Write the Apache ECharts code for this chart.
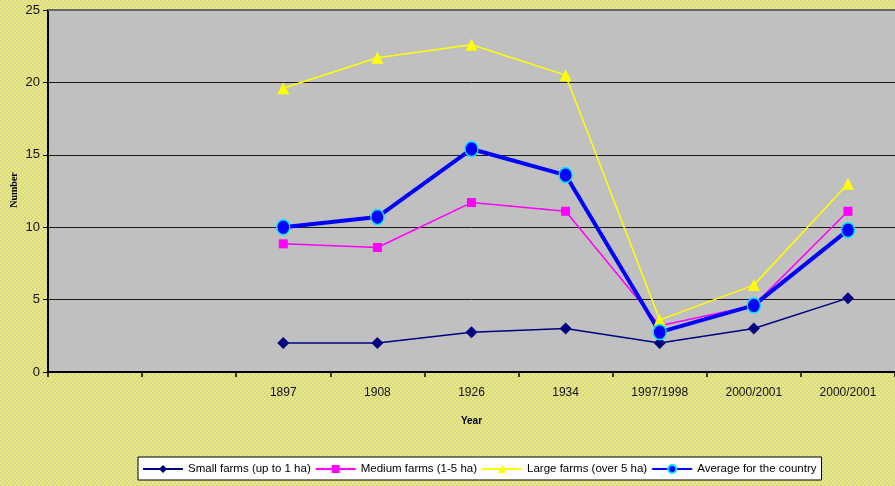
<!DOCTYPE html>
<html>
<head>
<meta charset="utf-8">
<script src="https://cdn.jsdelivr.net/npm/echarts@6/dist/echarts.min.js"></script>
<style>
html,body{margin:0;padding:0;}
#chart{width:895px;height:486px;}
</style>
</head>
<body>
<div id="chart"></div>
<script>
const categories = ['', '', '1897', '1908', '1926', '1934', '1997/1998', '2000/2001', '2000/2001'];
const smallFarms = [null, null, 2.0, 2.0, 2.75, 3.0, 2.0, 3.0, 5.1];
const mediumFarms = [null, null, 8.85, 8.6, 11.7, 11.1, 3.2, 4.6, 11.1];
const largeFarms = [null, null, 19.6, 21.7, 22.6, 20.5, 3.6, 6.0, 13.0];
const averageCountry = [null, null, 10.0, 10.7, 15.4, 13.6, 2.75, 4.6, 9.8];
const yTicks = [0, 5, 10, 15, 20, 25];
const yAxisTitle = 'Number';

// dotted yellow background pattern
const pc = document.createElement('canvas');
pc.width = 4; pc.height = 4;
const pctx = pc.getContext('2d');
pctx.fillStyle = '#ecec70';
pctx.fillRect(0, 0, 4, 4);
pctx.fillStyle = '#d6d69a';
pctx.fillRect(0, 0, 2, 2);
pctx.fillRect(2, 2, 2, 2);

const chart = echarts.init(document.getElementById('chart'));
const font = '"Liberation Sans", Arial, sans-serif';
chart.setOption({
  animation: false,
  backgroundColor: { image: pc, repeat: 'repeat' },
  textStyle: { fontFamily: font },
  grid: {
    left: 48, top: 10, right: 0, bottom: 114,
    outerBoundsMode: 'none', containLabel: false,
    show: true, backgroundColor: '#c0c0c0', borderWidth: 0
  },
  legend: {
    bottom: 6, left: 138,
    backgroundColor: '#ffffff', borderColor: '#000000', borderWidth: 1,
    padding: [6, 5, 5, 4], itemGap: 4, itemWidth: 40, itemHeight: 10,
    textStyle: { fontFamily: font, fontSize: 11.5, color: '#000' },
    data: ['Small farms (up to 1 ha)', 'Medium farms (1-5 ha)', 'Large farms (over 5 ha)', 'Average for the country']
  },
  xAxis: {
    type: 'category', data: categories, boundaryGap: true,
    name: 'Year', nameLocation: 'middle', nameGap: 44,
    nameTextStyle: { fontFamily: font, fontSize: 10, fontWeight: 'bold', color: '#000' },
    axisLine: { lineStyle: { color: '#000', width: 2 } },
    axisTick: { show: true, inside: false, length: 5, alignWithLabel: false, lineStyle: { color: '#000', width: 1.5 } },
    axisLabel: { fontFamily: font, fontSize: 12, color: '#111', margin: 15, interval: 0 },
    splitLine: { show: false }
  },
  yAxis: {
    type: 'value', min: 0, max: 25, interval: 5,
    axisLine: { show: true, lineStyle: { color: '#000', width: 2 } },
    axisTick: { show: true, length: 5, lineStyle: { color: '#000' } },
    axisLabel: { fontFamily: font, fontSize: 13, color: '#111', margin: 8,
      formatter: v => yTicks.includes(v) ? String(v) : '' },
    splitLine: { show: true, lineStyle: { color: '#1a1a1a', width: 1 } }
  },
  graphic: [
    {
      type: 'line', z: 10,
      shape: { x1: 48, y1: 10, x2: 895, y2: 10 },
      style: { stroke: '#666666', lineWidth: 2 }
    },
    {
      type: 'text', x: 14, y: 190, rotation: Math.PI / 2,
      style: {
        text: yAxisTitle, align: 'center', verticalAlign: 'middle',
        font: 'bold 10px "Liberation Serif", "Times New Roman", serif', fill: '#000'
      }
    }
  ],
  series: [
    {
      name: 'Small farms (up to 1 ha)', type: 'line', data: smallFarms,
      symbol: 'diamond', symbolSize: 12, showAllSymbol: true,
      lineStyle: { color: '#000080', width: 1.5 },
      itemStyle: { color: '#000080' }
    },
    {
      name: 'Medium farms (1-5 ha)', type: 'line', data: mediumFarms,
      symbol: 'rect', symbolSize: 9,
      lineStyle: { color: '#ff00ff', width: 1.5 },
      itemStyle: { color: '#ff00ff' }
    },
    {
      name: 'Large farms (over 5 ha)', type: 'line', data: largeFarms,
      symbol: 'triangle', symbolSize: 12,
      lineStyle: { color: '#ffff00', width: 1.5 },
      itemStyle: { color: '#ffff00' }
    },
    {
      name: 'Average for the country', type: 'line', data: averageCountry,
      symbol: 'circle', symbolSize: [13, 15],
      lineStyle: { color: '#0000ff', width: 4 },
      itemStyle: { color: '#0000ff', borderColor: '#00e5ff', borderWidth: 1.5 }
    }
  ]
});
</script>
</body>
</html>
